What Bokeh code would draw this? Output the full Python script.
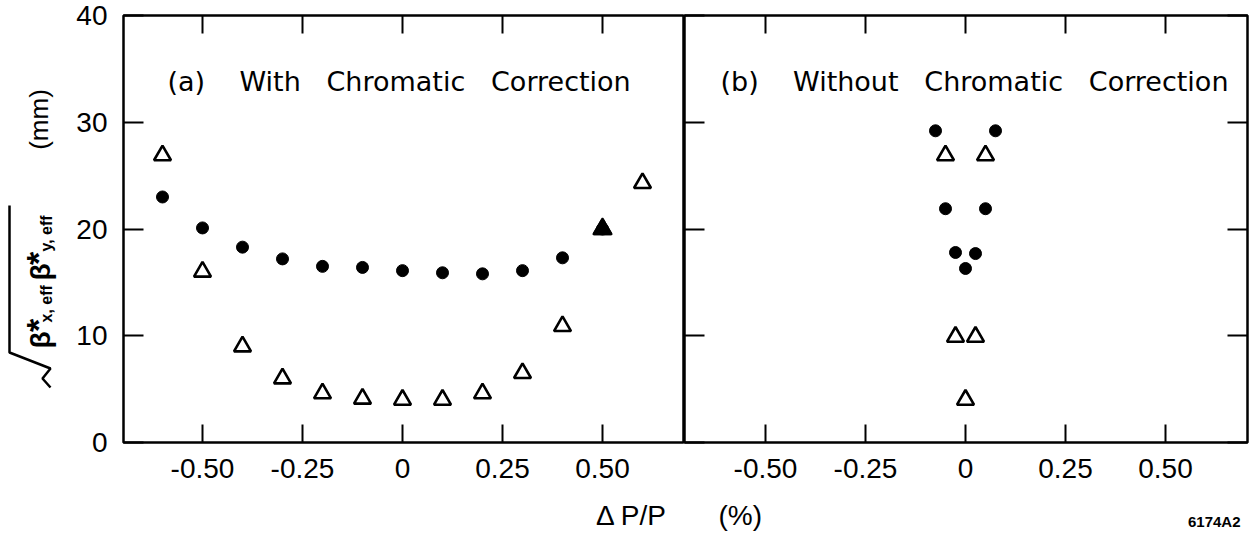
import math
from bokeh.plotting import figure
from bokeh.layouts import row, column
from bokeh.models import Range1d, LinearAxis, FixedTicker, Label
from bokeh.embed import file_html
from bokeh.resources import INLINE

# ---------------- data ----------------
# (a) with chromatic correction
dp_a_circ = [-0.6, -0.5, -0.4, -0.3, -0.2, -0.1, 0.0, 0.1, 0.2, 0.3, 0.4, 0.5]
circ_a = [23.0, 20.1, 18.3, 17.2, 16.5, 16.4, 16.1, 15.9, 15.8, 16.1, 17.3, 20.0]
dp_a_tri = [-0.6, -0.5, -0.4, -0.3, -0.2, -0.1, 0.0, 0.1, 0.2, 0.3, 0.4, 0.5, 0.6]
tri_a = [26.9, 16.0, 9.0, 6.0, 4.6, 4.1, 4.0, 4.0, 4.6, 6.5, 10.9, 20.0, 24.3]

# (b) without chromatic correction
dp_b_circ = [-0.075, -0.05, -0.025, 0.0, 0.025, 0.05, 0.075]
circ_b = [29.2, 21.9, 17.8, 16.3, 17.7, 21.9, 29.2]
dp_b_tri = [-0.05, -0.025, 0.0, 0.025, 0.05]
tri_b = [26.9, 9.9, 4.0, 9.9, 26.9]

x_ticks = [-0.5, -0.25, 0.0, 0.25, 0.5]
x_tick_labels = ["-0.50", "-0.25", "0", "0.25", "0.50"]
y_ticks = [0, 10, 20, 30, 40]
y_tick_labels = ["0", "10", "20", "30", "40"]
NB = "\u00a0"
panel_titles = ["(a)" + NB * 3 + " With" + NB * 2 + " Chromatic" + NB * 2 + " Correction",
                "(b)" + NB * 3 + " Without" + NB * 2 + " Chromatic" + NB * 2 + " Correction"]
x_label_parts = ["\u0394 P/P", "(%)"]
fig_id = "6174A2"

FONT = "Liberation Sans"
TFONT = "DejaVu Sans"
W = 1254
STRIP = 35            # bottom strip with the x label and figure id
HP = 533 - STRIP      # height of the panel row
TOP, BOTTOM = 15, 91 - STRIP
LW = 70


def hidden_labels(ax):
    ax.major_label_text_font_size = "0px"
    ax.major_label_text_color = None
    ax.major_label_standoff = 0


def make_panel(width, mbl, mbr, xs, xe):
    p = figure(width=width, height=HP, x_range=Range1d(xs, xe), y_range=Range1d(0, 40),
               output_backend="svg", toolbar_location=None, title=None,
               x_axis_location=None, y_axis_location=None,
               min_border_left=mbl, min_border_right=mbr,
               min_border_top=TOP, min_border_bottom=BOTTOM)
    p.grid.grid_line_color = None
    p.outline_line_color = "black"
    p.outline_line_width = 2.5
    p.background_fill_color = "white"
    p.border_fill_color = "white"
    xb = LinearAxis(ticker=FixedTicker(ticks=x_ticks),
                    major_label_overrides=dict(zip(x_ticks, x_tick_labels)),
                    major_tick_in=18, major_tick_out=0, major_tick_line_width=2,
                    minor_tick_line_color=None, axis_line_color=None,
                    major_label_text_font=FONT, major_label_text_font_size="28px",
                    major_label_text_color="black", major_label_standoff=16)
    p.add_layout(xb, "below")
    xt = LinearAxis(ticker=FixedTicker(ticks=x_ticks),
                    major_tick_in=18, major_tick_out=0, major_tick_line_width=2,
                    minor_tick_line_color=None, axis_line_color=None)
    hidden_labels(xt)
    p.add_layout(xt, "above")
    return p


# left panel: frame 123..684 px, 400 px per unit, zero at 402
p1 = make_panel(684 - LW, 123 - LW, 0, -0.6975, 0.705)
yl = LinearAxis(ticker=FixedTicker(ticks=y_ticks),
                major_label_overrides=dict(zip(y_ticks, y_tick_labels)),
                major_tick_in=20, major_tick_out=0, major_tick_line_width=2,
                minor_tick_line_color=None, axis_line_color=None,
                major_label_text_font=FONT, major_label_text_font_size="28px",
                major_label_text_color="black", major_label_standoff=16)
p1.add_layout(yl, "left")

# right panel: frame 684..1247 px, zero at 965
p2 = make_panel(W - 684, 0, 7, -0.7025, 0.705)
for side in ("left", "right"):
    ya = LinearAxis(ticker=FixedTicker(ticks=y_ticks),
                    major_tick_in=20, major_tick_out=0, major_tick_line_width=2,
                    minor_tick_line_color=None, axis_line_color=None)
    hidden_labels(ya)
    p2.add_layout(ya, side)


def plot_series(p, xc, yc, xt, yt):
    p.scatter(xc, yc, marker="circle", size=12, fill_color="black", line_color="black")
    p.scatter(xt, yt, marker="triangle", size=17, fill_color=None,
              line_color="black", line_width=2.6)
    # coincident circle/triangle points are drawn as a solid triangle
    ov_x, ov_y = [], []
    for x, y in zip(xt, yt):
        for x2, y2 in zip(xc, yc):
            if abs(x - x2) < 1e-9 and abs(y - y2) < 0.3:
                ov_x.append(x)
                ov_y.append(y)
    if ov_x:
        p.scatter(ov_x, ov_y, marker="triangle", size=19, fill_color="black",
                  line_color="black", line_width=1.5)


plot_series(p1, dp_a_circ, circ_a, dp_a_tri, tri_a)
plot_series(p2, dp_b_circ, circ_b, dp_b_tri, tri_b)

p1.add_layout(Label(x=-0.5875, y=33.85, text=panel_titles[0], text_font=TFONT,
                    text_font_size="27px", text_color="black", text_baseline="middle"))
p2.add_layout(Label(x=-0.6125, y=33.85, text=panel_titles[1], text_font=TFONT,
                    text_font_size="27px", text_color="black", text_baseline="middle"))

# y axis label strip; its frame is aligned with the panels (15..442 px),
# so the y range is set so that data y equals page pixel y.
lab = figure(width=LW, height=HP, x_range=Range1d(0, LW), y_range=Range1d(442, 15),
             output_backend="svg", toolbar_location=None, title=None,
             x_axis_location=None, y_axis_location=None, min_border=0,
             min_border_top=TOP, min_border_bottom=BOTTOM)
lab.grid.grid_line_color = None
lab.outline_line_color = None
lab.border_fill_color = "white"
lab.background_fill_color = "white"
A = math.pi / 2
lab.line([9, 9, 50, 42, 50], [205, 352, 368, 378, 387], line_width=2.5, line_color="black")
pieces = [
    # text, x (centre across the text), y, size, align, style
    ("(mm)", 38, 119, "26px", "center", "normal"),
    ("\u03b2", 40, 348, "28px", "left", "bold"),
    ("*", 37, 325, "34px", "center", "bold"),
    ("x, eff", 46, 322, "16px", "left", "bold"),
    ("\u03b2", 40, 280, "28px", "left", "bold"),
    ("*", 37, 258, "34px", "center", "bold"),
    ("y, eff", 46, 251, "16px", "left", "bold"),
]
for t, x, y, s, al, st in pieces:
    lab.add_layout(Label(x=x, y=y, text=t, angle=A, text_font=FONT, text_font_size=s,
                         text_align=al, text_baseline="middle", text_font_style=st,
                         text_color="black"))

# bottom strip: x is page pixels, y is pixels above the page bottom
strip = figure(frame_width=W, frame_height=STRIP, x_range=Range1d(0, W),
               y_range=Range1d(0, STRIP), title=None,
               output_backend="svg", toolbar_location=None,
               x_axis_location=None, y_axis_location=None, min_border=0)
strip.grid.grid_line_color = None
strip.outline_line_color = None
strip.border_fill_color = "white"
strip.background_fill_color = "white"
strip.add_layout(Label(x=667, y=533 - 515, text=x_label_parts[0], text_font=FONT,
                       text_font_size="28px", text_align="right", text_baseline="middle",
                       text_color="black"))
strip.add_layout(Label(x=718, y=533 - 515, text=x_label_parts[1], text_font=FONT,
                       text_font_size="28px", text_align="left", text_baseline="middle",
                       text_color="black"))
strip.add_layout(Label(x=1240, y=533 - 521, text=fig_id, text_font=FONT, text_font_style="bold",
                       text_font_size="15px", text_align="right", text_baseline="middle",
                       text_color="black"))

layout = column(row(lab, p1, p2, spacing=0), strip, spacing=0)
open("out.html", "w").write(file_html(layout, INLINE))
